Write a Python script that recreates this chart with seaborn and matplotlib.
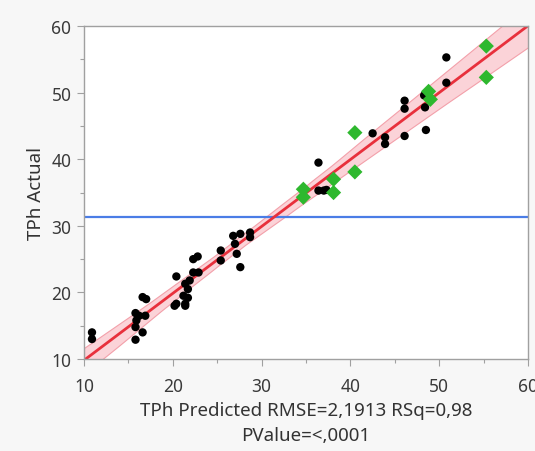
import numpy as np
import pandas as pd
import matplotlib.pyplot as plt
from matplotlib.ticker import MultipleLocator
import seaborn as sns

# Pontos de treino (círculos pretos): previsto vs real
train_pred = [10.9, 10.9, 16.6, 17.0, 15.8, 16.2, 16.9, 15.9, 15.8, 16.6, 15.8,
              20.4, 21.4, 21.2, 20.2, 21.4, 20.4, 21.7, 21.7, 21.4, 21.9, 22.3,
              22.9, 22.3, 22.8, 25.4, 25.4, 26.8, 27.6, 28.7, 28.7, 27.0, 27.2,
              27.6, 36.4, 36.4, 37.0, 37.3, 42.5, 43.9, 43.9, 46.1, 46.1, 46.1,
              48.3, 48.4, 48.5, 50.8, 50.8]
train_actual = [14.0, 13.0, 19.3, 19.0, 16.9, 16.5, 16.5, 15.8, 14.8, 14.0, 12.9,
                18.3, 18.3, 19.5, 18.0, 18.0, 22.4, 19.2, 20.5, 21.3, 21.8, 23.0,
                23.0, 25.0, 25.4, 26.3, 24.8, 28.5, 28.8, 29.0, 28.3, 27.3, 25.8,
                23.8, 39.5, 35.3, 35.3, 35.4, 43.9, 43.3, 42.3, 48.8, 47.6, 43.5,
                49.6, 47.8, 44.4, 55.3, 51.5]

# Pontos de validação (losangos verdes)
valid_pred = [34.7, 34.7, 38.1, 38.1, 40.5, 40.5, 48.8, 49.0, 55.3, 55.3]
valid_actual = [35.5, 34.3, 37.0, 35.0, 44.0, 38.1, 50.2, 49.0, 57.0, 52.3]

# Média de TPh Actual (linha azul)
mean_actual = 31.4

df_train = pd.DataFrame({"pred": train_pred, "actual": train_actual})
df_valid = pd.DataFrame({"pred": valid_pred, "actual": valid_actual})

sns.set_style("white")
plt.rcParams["font.family"] = ["Noto Sans", "DejaVu Sans"]

fig = plt.figure(figsize=(5.35, 4.52), dpi=100, facecolor="#f7f7f7")
ax = fig.add_axes([0.157, 0.2035, 0.83, 0.7365])
ax.set_facecolor("white")
ax.set_xlim(10, 60)
ax.set_ylim(10, 60)

# Linha de ajuste com banda de confiança
sns.regplot(data=df_train, x="pred", y="actual", ax=ax, scatter=False,
            truncate=False, ci=99.9, n_boot=4000, seed=1,
            line_kws={"color": "#e8303c", "lw": 2},
            color="#f08090")
for coll in ax.collections:
    coll.set_facecolor("#fbd3d8")
    coll.set_edgecolor("#f3a0aa")
    coll.set_linewidth(0.8)
    coll.set_alpha(1)

ax.axhline(mean_actual, color="#4a7de6", lw=1.6, zorder=1.5)

sns.scatterplot(data=df_train, x="pred", y="actual", ax=ax, color="black",
                s=36, edgecolor="none", zorder=3)
sns.scatterplot(data=df_valid, x="pred", y="actual", ax=ax, color="#2eb82e",
                marker="D", s=60, edgecolor="none", zorder=4)

ax.xaxis.set_major_locator(MultipleLocator(10))
ax.yaxis.set_major_locator(MultipleLocator(10))
ax.xaxis.set_minor_locator(MultipleLocator(5))
ax.yaxis.set_minor_locator(MultipleLocator(5))
ax.tick_params(which="major", direction="out", length=5, width=0.8,
               color="#a0a0a0", labelsize=12.5, labelcolor="#3a3a3a",
               bottom=True, left=True, pad=4)
ax.tick_params(axis="x", which="major", pad=8)
ax.tick_params(which="minor", direction="out", length=3, width=0.8,
               color="#a0a0a0", bottom=True, left=True)
for sp in ax.spines.values():
    sp.set_color("#a0a0a0")
    sp.set_linewidth(1)

ax.set_xlabel("TPh Predicted RMSE=2,1913 RSq=0,98\nPValue=<,0001",
              fontsize=13.5, color="#333333", linespacing=1.5, labelpad=4)
ax.set_ylabel("TPh Actual", fontsize=13.5, color="#333333", labelpad=5)

fig.savefig("out.png", dpi=100, facecolor=fig.get_facecolor())
